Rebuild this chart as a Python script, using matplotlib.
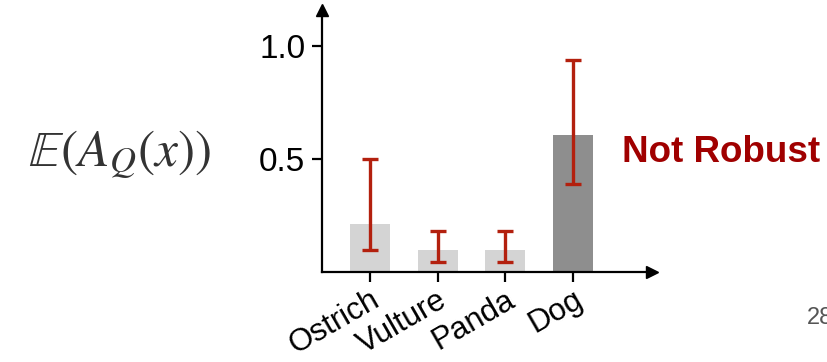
import matplotlib
matplotlib.use("Agg")
import matplotlib.pyplot as plt
import numpy as np

categories = ["Ostrich", "Vulture", "Panda", "Dog"]
bar_values = [0.213, 0.098, 0.098, 0.605]
err_low = [0.098, 0.045, 0.045, 0.39]
err_high = [0.50, 0.18, 0.18, 0.935]
bar_colors = ["#D4D4D4", "#D4D4D4", "#D4D4D4", "#8E8E8E"]
yticks = [0.5, 1.0]
ytick_labels = ["0.5", "1.0"]

plt.rcParams['font.family'] = ['Liberation Sans', 'DejaVu Sans']
plt.rcParams['mathtext.fontset'] = 'stix'

W, H = 828, 362
fig = plt.figure(figsize=(W / 100, H / 100), dpi=100)
ax = fig.add_axes([322 / W, 89.7 / H, (652 - 322) / W, (352 - 89.7) / H])

x = np.arange(len(categories))
ax.bar(x, bar_values, width=0.59, color=bar_colors, zorder=1)
centers = np.array(bar_values)
yerr = [centers - np.array(err_low), np.array(err_high) - centers]
ax.errorbar(x, centers, yerr=yerr, fmt='none', ecolor='#B3200E',
            elinewidth=2.4, capsize=6, capthick=2.4, zorder=3)

ax.set_xlim(-0.706, 4.167)
ax.set_ylim(0, 1.157)

for s in ['top', 'right']:
    ax.spines[s].set_visible(False)
for s in ['left', 'bottom']:
    ax.spines[s].set_linewidth(1.6)
    ax.spines[s].set_color('black')

ax.set_yticks(yticks)
ax.set_yticklabels(ytick_labels, fontsize=24)
ax.set_xticks(x)
ax.set_xticklabels(categories, fontsize=22.5, rotation=30, ha='right',
                   va='top', rotation_mode='anchor')
ax.tick_params(axis='both', width=1.6, length=7, color='black')
ax.tick_params(axis='x', pad=2)
ax.tick_params(axis='y', pad=5)

# arrowheads
ax.plot(1, 0, marker='>', color='black', markersize=9,
        transform=ax.transAxes, clip_on=False)
ax.plot(0, 1, marker='^', color='black', markersize=9,
        transform=ax.transAxes, clip_on=False)

fig.text(28 / W, 1 - 154 / H, r'$\mathbb{E}(A_Q(x))$', fontsize=37,
         ha='left', va='center', color='#333333')
fig.text(622 / W, 1 - 152 / H, 'Not Robust', fontsize=26.5, fontweight='bold',
         color='#A00000', ha='left', va='center')
fig.text(807 / W, 1 - 318 / H, '28', fontsize=17, color='#555555',
         ha='left', va='center')

fig.savefig('out.png', dpi=100)
